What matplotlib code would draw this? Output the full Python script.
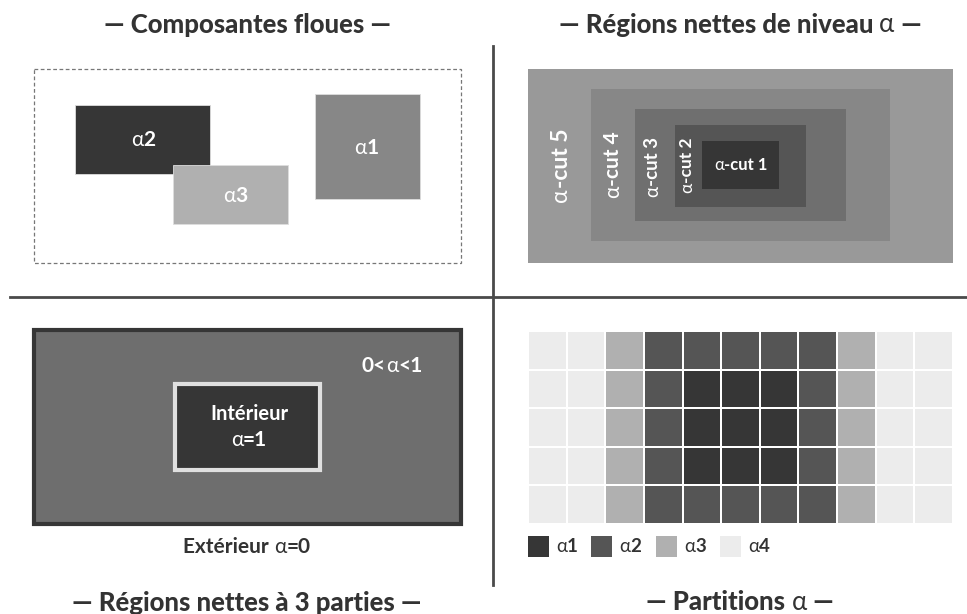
import matplotlib
matplotlib.use("Agg")
import matplotlib.pyplot as plt
from matplotlib.patches import Rectangle
from matplotlib.colors import ListedColormap
import numpy as np

plt.rcParams['font.family'] = ['Lato', 'DejaVu Sans']

# ---------------- data ----------------
panel_titles = [
    [("— Composantes floues —", "black")],
    [("— Régions nettes de niveau ", "black"), ("α", "normal"), (" —", "black")],
    [("— Régions nettes à 3 parties —", "black")],
    [("— Partitions ", "black"), ("α", "normal"), (" —", "black")],
]
fuzzy_labels = ["2", "3", "1"]           # α2, α3, α1 components
fuzzy_colors = ["#363636", "#b0b0b0", "#878787"]
cut_labels = ["5", "4", "3", "2", "1"]   # α-cut 5 ... α-cut 1
cut_colors = ["#999999", "#878787", "#6f6f6f", "#555555", "#363636"]
three_part_labels = ["Intérieur", "α=1", "0<α<1", "Extérieur α=0"]
grid_levels = [
    [4, 4, 3, 2, 2, 2, 2, 2, 3, 4, 4],
    [4, 4, 3, 2, 1, 1, 1, 2, 3, 4, 4],
    [4, 4, 3, 2, 1, 1, 1, 2, 3, 4, 4],
    [4, 4, 3, 2, 1, 1, 1, 2, 3, 4, 4],
    [4, 4, 3, 2, 2, 2, 2, 2, 3, 4, 4],
]
level_names = ["1", "2", "3", "4"]
level_colors = ["#363636", "#555555", "#b0b0b0", "#ececec"]

# ---------------- figure ----------------
W, H = 967, 614
fig = plt.figure(figsize=(W / 100, H / 100), dpi=100)
ax = fig.add_axes([0, 0, 1, 1])
ax.set_xlim(0, W)
ax.set_ylim(H, 0)
ax.axis("off")
renderer = fig.canvas.get_renderer()

TXT = "#333333"


def rich(x, y, parts, size, color, ha="center"):
    """Draw text made of (string, weight) parts on one line."""
    arts = [ax.text(0, y, s, fontsize=size, fontweight=w, color=color,
                    ha="left", va="center") for s, w in parts]
    widths = [a.get_window_extent(renderer).width for a in arts]
    x0 = x - sum(widths) / 2 if ha == "center" else x
    for a, w in zip(arts, widths):
        a.set_x(x0)
        x0 += w
    return arts


def rich_vertical(x, y, parts, size, color):
    """Same as rich, rotated 90 degrees (reads bottom to top)."""
    arts = [ax.text(x, 0, s, fontsize=size, fontweight=w, color=color,
                    rotation=90, ha="left", va="center",
                    rotation_mode="anchor") for s, w in parts]
    hs = [a.get_window_extent(renderer).height for a in arts]
    y0 = y + sum(hs) / 2
    for a, hh in zip(arts, hs):
        a.set_y(y0)
        y0 -= hh
    return arts


def alpha_lab(x, y, num, size, color):
    rich(x, y, [("α", "normal"), (num, "bold")], size, color)


# separators
ax.plot([10, W], [297, 297], color="#4a4a4a", lw=2)
ax.plot([493, 493], [46, 585], color="#4a4a4a", lw=2)

# titles
TS = 18.5
rich(247, 25, panel_titles[0], TS, TXT)
rich(740, 25, panel_titles[1], TS, TXT)
rich(247, 603, panel_titles[2], TS, TXT)
rich(740, 602, panel_titles[3], TS, TXT)

# ---- panel 1: fuzzy components ----
ax.add_patch(Rectangle((34, 69), 427, 194, fill=False, ec="#777777",
                       lw=0.9, ls=(0, (3, 2))))
fz_geom = [(75, 105, 135, 69), (173, 165, 115, 59), (315, 94, 105, 105)]
fz_lab = [(143, 140), (235, 196), (366, 148)]
for (x, y, w, h), c in zip(fz_geom, fuzzy_colors):
    ax.add_patch(Rectangle((x, y), w, h, fc=c, ec="#dddddd", lw=0.6))
for (lx, ly), n in zip(fz_lab, fuzzy_labels):
    alpha_lab(lx, ly, n, 15, "white")

# ---- panel 2: alpha cuts ----
cut_geom = [(528, 69, 425, 194), (591, 89, 299, 152), (635, 109, 211, 112),
            (675, 125, 131, 82), (702, 141, 77, 48)]
for (x, y, w, h), c in zip(cut_geom, cut_colors):
    ax.add_patch(Rectangle((x, y), w, h, fc=c, ec="none"))
cut_pos = [(561, 165, 16.5), (613, 165, 15), (653, 167, 13.5), (687, 165, 12.5)]
for (lx, ly, fs), n in zip(cut_pos, cut_labels[:4]):
    rich_vertical(lx, ly, [("α", "normal"), ("-cut " + n, "bold")], fs, "white")
rich(741, 165, [("α", "normal"), ("-cut " + cut_labels[4], "bold")], 12, "white")

# ---- panel 3: three-part regions ----
ax.add_patch(Rectangle((34, 330), 427, 194, fc="#6e6e6e", ec="#363636", lw=3))
ax.add_patch(Rectangle((175, 384), 145, 86, fc="#363636", ec="#e0e0e0", lw=3))
ax.text(249, 414, three_part_labels[0], fontsize=14.5, fontweight="bold",
        color="white", ha="center", va="center")
rich(249, 440, [("α", "normal"), ("=1", "bold")], 15, "white")
rich(392, 366, [("0<", "bold"), ("α", "normal"), ("<1", "bold")], 15, "white")
rich(247, 547, [("Extérieur ", "bold"), ("α", "normal"), ("=0", "bold")], 15, TXT)

# ---- panel 4: alpha partitions ----
g = np.array(grid_levels)
xe = np.linspace(528, 953, g.shape[1] + 1)
ye = np.linspace(331, 524, g.shape[0] + 1)
ax.pcolormesh(xe, ye, g, cmap=ListedColormap(level_colors), vmin=0.5, vmax=4.5,
              edgecolors="white", linewidth=1.2)
leg_x = [528, 591, 656, 720]
for lx, n, c in zip(leg_x, level_names, level_colors):
    ax.add_patch(Rectangle((lx, 536), 21, 21, fc=c, ec="none"))
    rich(lx + 39, 546, [("α", "normal"), (n, "bold")], 13.5, TXT)

fig.savefig("out.png", dpi=100)
